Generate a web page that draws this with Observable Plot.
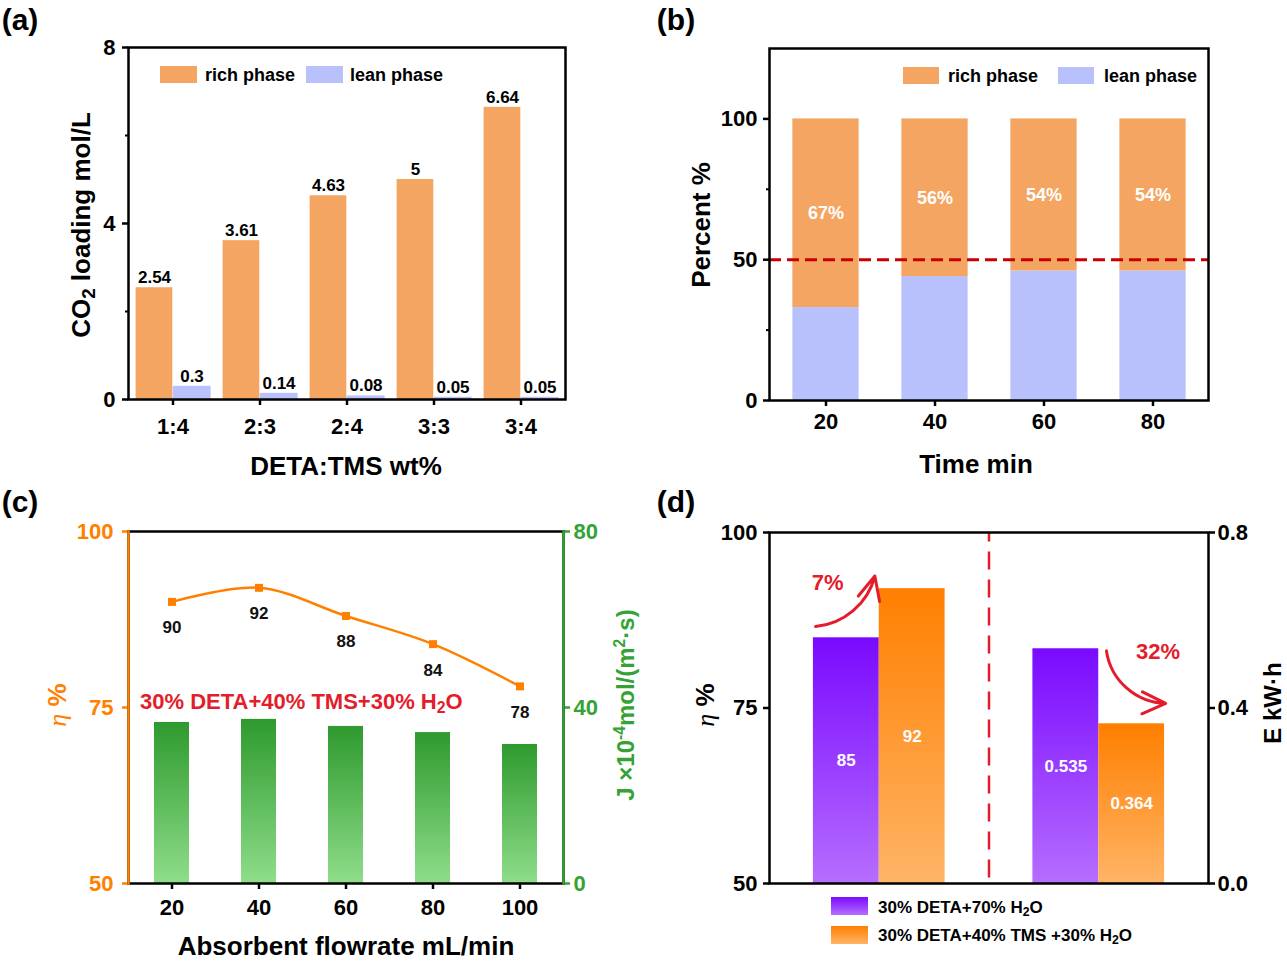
<!DOCTYPE html>
<html><head><meta charset="utf-8">
<script src="https://cdn.jsdelivr.net/npm/d3@7"></script>
<script src="https://cdn.jsdelivr.net/npm/@observablehq/plot@0.6"></script>
<style>
body{margin:0;background:#fff;}
#fig{position:relative;width:1287px;height:972px;overflow:hidden;font-family:"Liberation Sans",Arial,sans-serif;font-weight:bold;color:#000;background:#fff;}
.t{position:absolute;white-space:nowrap;line-height:1;}
.sw{position:absolute;}
sub{font-size:0.72em;vertical-align:-0.28em;line-height:0;}
sup{font-size:0.65em;vertical-align:0.55em;line-height:0;}
.eta{font-family:"Liberation Serif","DejaVu Serif",serif;font-style:italic;font-weight:normal;}
</style></head><body><div id="fig"></div>
<script>
// ---------- data ----------
const ratios = ["1:4", "2:3", "2:4", "3:3", "3:4"];
const richLoading = [2.54, 3.61, 4.63, 5, 6.64];
const leanLoading = [0.3, 0.14, 0.08, 0.05, 0.05];

const times = [20, 40, 60, 80];
const richPercent = [67, 56, 54, 54];
const leanPercent = [33, 44, 46, 46];

const flowrates = [20, 40, 60, 80, 100];
const efficiency = [90, 92, 88, 84, 78];
const flux = [36.6, 37.3, 35.7, 34.3, 31.6];

const dSeries = ["30% DETA+70% H2O", "30% DETA+40% TMS +30% H2O"];
const dEta = [85, 92];
const dEnergy = [0.535, 0.364];
const dChange = ["7%", "32%"];

// ---------- styles ----------
const ORANGE_A = "#f4a562", LAV = "#b9c1fd";
const ORANGE = "#ff8000", GREEN = "#33a333", RED = "#e31d2b";
const FONT = "'Liberation Sans', Arial, sans-serif";
const fig = document.getElementById("fig");

function svgStyle(left, top) {
  return {position: "absolute", left: left + "px", top: top + "px", fontFamily: FONT, fontWeight: "bold", background: "none", overflow: "visible", color: "#000"};
}
function addGrad(svg, id, top, bottom) {
  const s = d3.select(svg);
  let defs = s.select("defs");
  if (defs.empty()) defs = s.insert("defs", ":first-child");
  const g = defs.append("linearGradient").attr("id", id).attr("x1", 0).attr("y1", 0).attr("x2", 0).attr("y2", 1);
  g.append("stop").attr("offset", "0%").attr("stop-color", top);
  g.append("stop").attr("offset", "100%").attr("stop-color", bottom);
}
function txt(html, x, y, o = {}) {
  const d = document.createElement("div");
  d.className = "t";
  d.innerHTML = html;
  d.style.left = x + "px"; d.style.top = y + "px";
  d.style.fontSize = (o.size || 26) + "px";
  d.style.color = o.color || "#000";
  if (o.weight) d.style.fontWeight = o.weight;
  d.style.transform = o.rot ? "translate(-50%,-50%) rotate(-90deg)" : (o.left ? "translate(0,-50%)" : "translate(-50%,-50%)");
  fig.appendChild(d);
}
function swatch(x, y, w, h, bg) {
  const d = document.createElement("div");
  d.className = "sw";
  Object.assign(d.style, {left: x + "px", top: y + "px", width: w + "px", height: h + "px", background: bg});
  fig.appendChild(d);
}

// ---------- panel (a) ----------
const aData = ratios.map((r, i) => ({r, rich: richLoading[i], lean: leanLoading[i]}));
const bwA = (640 - 128 - 75) / ratios.length;
const plotA = Plot.plot({
  width: 640, height: 480, marginLeft: 128, marginRight: 75, marginTop: 47, marginBottom: 81,
  style: svgStyle(0, 0),
  x: {type: "band", domain: ratios, padding: 0, axis: null},
  y: {domain: [0, 8], axis: null},
  marks: [
    Plot.barY(aData, {x: "r", y: "rich", fill: ORANGE_A, insetLeft: 6.6, insetRight: bwA / 2}),
    Plot.barY(aData, {x: "r", y: "lean", fill: LAV, insetLeft: bwA / 2, insetRight: 5.4}),
    Plot.text(aData, {x: "r", y: "rich", text: d => String(d.rich), dx: -18.5, dy: -10, fontSize: 17, fontWeight: "bold"}),
    Plot.text(aData, {x: "r", y: "lean", text: d => String(d.lean), dx: 19, dy: -10, fontSize: 17, fontWeight: "bold"}),
    Plot.axisY({ticks: [0, 4, 8], tickSize: 6, tickPadding: 7, fontSize: 22, strokeWidth: 2.5, label: null}),
    Plot.axisY({ticks: [2, 6], tickSize: 3, tickFormat: () => "", strokeWidth: 2, label: null}),
    Plot.axisX({tickSize: 6, tickPadding: 13, fontSize: 22, strokeWidth: 2.5, label: null}),
    Plot.frame({stroke: "#000", strokeWidth: 2.5})
  ]
});
fig.appendChild(plotA);

// ---------- panel (b) ----------
const bData = times.map((t, i) => ({t, rich: richPercent[i], lean: leanPercent[i]}));
const bwB = (647 - 129 - 79) / times.length;
const insB = (bwB - 67) / 2;
const plotB = Plot.plot({
  width: 647, height: 480, marginLeft: 129, marginRight: 79, marginTop: 48, marginBottom: 80,
  style: svgStyle(640, 0),
  x: {type: "band", domain: times, padding: 0, axis: null},
  y: {domain: [0, 125], axis: null},
  marks: [
    Plot.barY(bData, {x: "t", y1: 0, y2: "lean", fill: LAV, insetLeft: insB, insetRight: insB}),
    Plot.barY(bData, {x: "t", y1: "lean", y2: d => d.lean + d.rich, fill: ORANGE_A, insetLeft: insB, insetRight: insB}),
    Plot.ruleY([50], {stroke: "#c80000", strokeWidth: 3, strokeDasharray: "12,6"}),
    Plot.text(bData, {x: "t", y: d => d.lean + d.rich / 2, text: d => d.rich + "%", fill: "white", fontSize: 18, fontWeight: "bold"}),
    Plot.axisY({ticks: [0, 50, 100], tickSize: 6, tickPadding: 6, fontSize: 22, strokeWidth: 2.5, label: null}),
    Plot.axisY({ticks: [25, 75], tickSize: 3, tickFormat: () => "", strokeWidth: 2, label: null}),
    Plot.axisX({tickSize: 6, tickPadding: 7, fontSize: 22, strokeWidth: 2.5, label: null}),
    Plot.frame({stroke: "#000", strokeWidth: 2.5})
  ]
});
fig.appendChild(plotB);

// ---------- panel (c) ----------
const cData = flowrates.map((f, i) => ({f, eta: efficiency[i], J: flux[i]}));
const jToEta = j => 50 + j * 50 / 80;
const bwC = (640 - 128 - 77) / flowrates.length;
const insC = (bwC - 35) / 2;
const plotC = Plot.plot({
  width: 640, height: 492, marginLeft: 128, marginRight: 77, marginTop: 51, marginBottom: 89,
  style: svgStyle(0, 480),
  x: {type: "band", domain: flowrates, padding: 0, axis: null},
  y: {domain: [50, 100], axis: null},
  marks: [
    Plot.barY(cData, {x: "f", y1: 50, y2: d => jToEta(d.J), fill: "url(#gGreen)", insetLeft: insC, insetRight: insC}),
    Plot.line(cData, {x: "f", y: "eta", stroke: ORANGE, strokeWidth: 2.5, curve: "catmull-rom"}),
    Plot.dot(cData, {x: "f", y: "eta", symbol: "square", r: 4.5, fill: ORANGE, stroke: "none"}),
    Plot.text(cData, {x: "f", y: "eta", text: d => String(d.eta), dy: 26, fontSize: 17, fontWeight: "bold", fill: "#111"}),
    Plot.axisY({anchor: "left", ticks: [50, 75, 100], tickSize: 6, tickPadding: 9, fontSize: 22, strokeWidth: 2.5, color: ORANGE, label: null}),
    Plot.axisY({anchor: "right", ticks: [50, 75, 100], tickFormat: v => String(Math.round((v - 50) * 80 / 50)), tickSize: 6, tickPadding: 4, fontSize: 22, strokeWidth: 2.5, color: GREEN, label: null}),
    Plot.axisX({tickSize: 6, tickPadding: 10, fontSize: 22, strokeWidth: 2.5, label: null}),
    Plot.frame({stroke: "#000", strokeWidth: 2.5}),
    Plot.frame({anchor: "left", stroke: ORANGE, strokeWidth: 2.5}),
    Plot.frame({anchor: "right", stroke: GREEN, strokeWidth: 2.5})
  ]
});
addGrad(plotC, "gGreen", "#2e9a2e", "#8fdd8a");
fig.appendChild(plotC);

// ---------- panel (d) ----------
const eToEta = e => 50 + e * 50 / 0.8;
const half = 0.6;
const dRows = [];
dSeries.forEach((s, si) => {
  dRows.push({s: si, c: 1, y: dEta[si], label: String(dEta[si])});
  dRows.push({s: si, c: 3, y: eToEta(dEnergy[si]), label: String(dEnergy[si])});
});
dRows.forEach(d => { d.x1 = d.s === 0 ? d.c - half : d.c; d.x2 = d.s === 0 ? d.c : d.c + half; });
const arrowUp = [{x1: 1 - half + 0.02, y1: dEta[0] + 1.6, x2: 1 - 0.04, y2: dEta[1] + 1.8}];
const arrowDown = [{x1: 3 + 0.07, y1: eToEta(dEnergy[0]) - 0.3, x2: 3 + half + 0.01, y2: eToEta(dEnergy[1]) + 2.9}];
const pctLabels = [
  {x: 1 - half + 0.13, y: dEta[1] + 0.8, t: dChange[0]},
  {x: 3 + half - 0.06, y: eToEta(dEnergy[0]) - 0.4, t: dChange[1]}
];
const plotD = Plot.plot({
  width: 647, height: 492, marginLeft: 129, marginRight: 79, marginTop: 52, marginBottom: 89,
  style: svgStyle(640, 480),
  x: {type: "linear", domain: [0, 4], axis: null},
  y: {domain: [50, 100], axis: null},
  marks: [
    Plot.rectY(dRows, {x1: "x1", x2: "x2", y1: 50, y2: "y", fill: d => d.s === 0 ? "url(#gPurple)" : "url(#gOrange)"}),
    Plot.text(dRows, {x: d => (d.x1 + d.x2) / 2, y: d => (50 + d.y) / 2, text: "label", fill: "white", fontSize: 17, fontWeight: "bold"}),
    Plot.ruleX([2], {y1: 50.8, y2: 100, stroke: RED, strokeWidth: 2.5, strokeDasharray: "18,10"}),
    Plot.arrow(arrowUp, {x1: "x1", y1: "y1", x2: "x2", y2: "y2", bend: -35, stroke: RED, strokeWidth: 3, headLength: 13, headAngle: 50}),
    Plot.arrow(arrowDown, {x1: "x1", y1: "y1", x2: "x2", y2: "y2", bend: -40, stroke: RED, strokeWidth: 3, headLength: 13, headAngle: 50}),
    Plot.text(pctLabels, {x: "x", y: "y", text: "t", fill: RED, fontSize: 22, fontWeight: "bold"}),
    Plot.axisY({anchor: "left", ticks: [50, 75, 100], tickSize: 6, tickPadding: 6, fontSize: 22, strokeWidth: 2.5, label: null}),
    Plot.axisY({anchor: "right", ticks: [50, 75, 100], tickFormat: v => ((v - 50) * 0.8 / 50).toFixed(1), tickSize: 6, tickPadding: 3, fontSize: 22, strokeWidth: 2.5, label: null}),
    Plot.frame({stroke: "#000", strokeWidth: 2.5})
  ]
});
addGrad(plotD, "gPurple", "#7a0aff", "#b66dff");
addGrad(plotD, "gOrange", "#ff7f00", "#ffb466");
fig.appendChild(plotD);

// ---------- text overlays ----------
txt("(a)", 20, 20, {size: 30});
txt("(b)", 676, 20, {size: 30});
txt("(c)", 20, 502, {size: 30});
txt("(d)", 676, 502, {size: 30});

txt("CO<sub>2</sub> loading mol/L", 81, 225, {size: 26, rot: true});
txt("DETA:TMS wt%", 346, 466, {size: 26});
txt("Percent %", 701, 225, {size: 26, rot: true});
txt("Time min", 976, 464, {size: 26});
txt("<span class='eta'>η</span> %", 57, 705, {size: 26, rot: true, color: ORANGE});
txt("J ×10<sup>-4</sup>mol/(m<sup>2</sup>·s)", 626, 705, {size: 24, rot: true, color: GREEN});
txt("Absorbent flowrate mL/min", 346, 946, {size: 26});
txt("<span class='eta'>η</span> %", 705, 705, {size: 26, rot: true});
txt("E kW·h", 1273, 703, {size: 24, rot: true});
txt("30% DETA+40% TMS+30% H<sub>2</sub>O", 140, 702, {size: 22, color: RED, left: true});

// legends
swatch(160, 66, 37, 17, ORANGE_A); txt("rich phase", 205, 75, {size: 18, left: true});
swatch(306, 66, 37, 17, LAV); txt("lean phase", 350, 75, {size: 18, left: true});
swatch(903, 67, 36, 17, ORANGE_A); txt("rich phase", 948, 76, {size: 18, left: true});
swatch(1058, 67, 36, 17, LAV); txt("lean phase", 1104, 76, {size: 18, left: true});
swatch(831, 897, 37, 18, "linear-gradient(#7a0aff,#b66dff)");
txt(dSeries[0].replace("H2O", "H<sub>2</sub>O"), 878, 907, {size: 17, left: true});
swatch(831, 926, 37, 18, "linear-gradient(#ff7f00,#ffb466)");
txt(dSeries[1].replace("H2O", "H<sub>2</sub>O"), 878, 935, {size: 17, left: true});
</script></body></html>
